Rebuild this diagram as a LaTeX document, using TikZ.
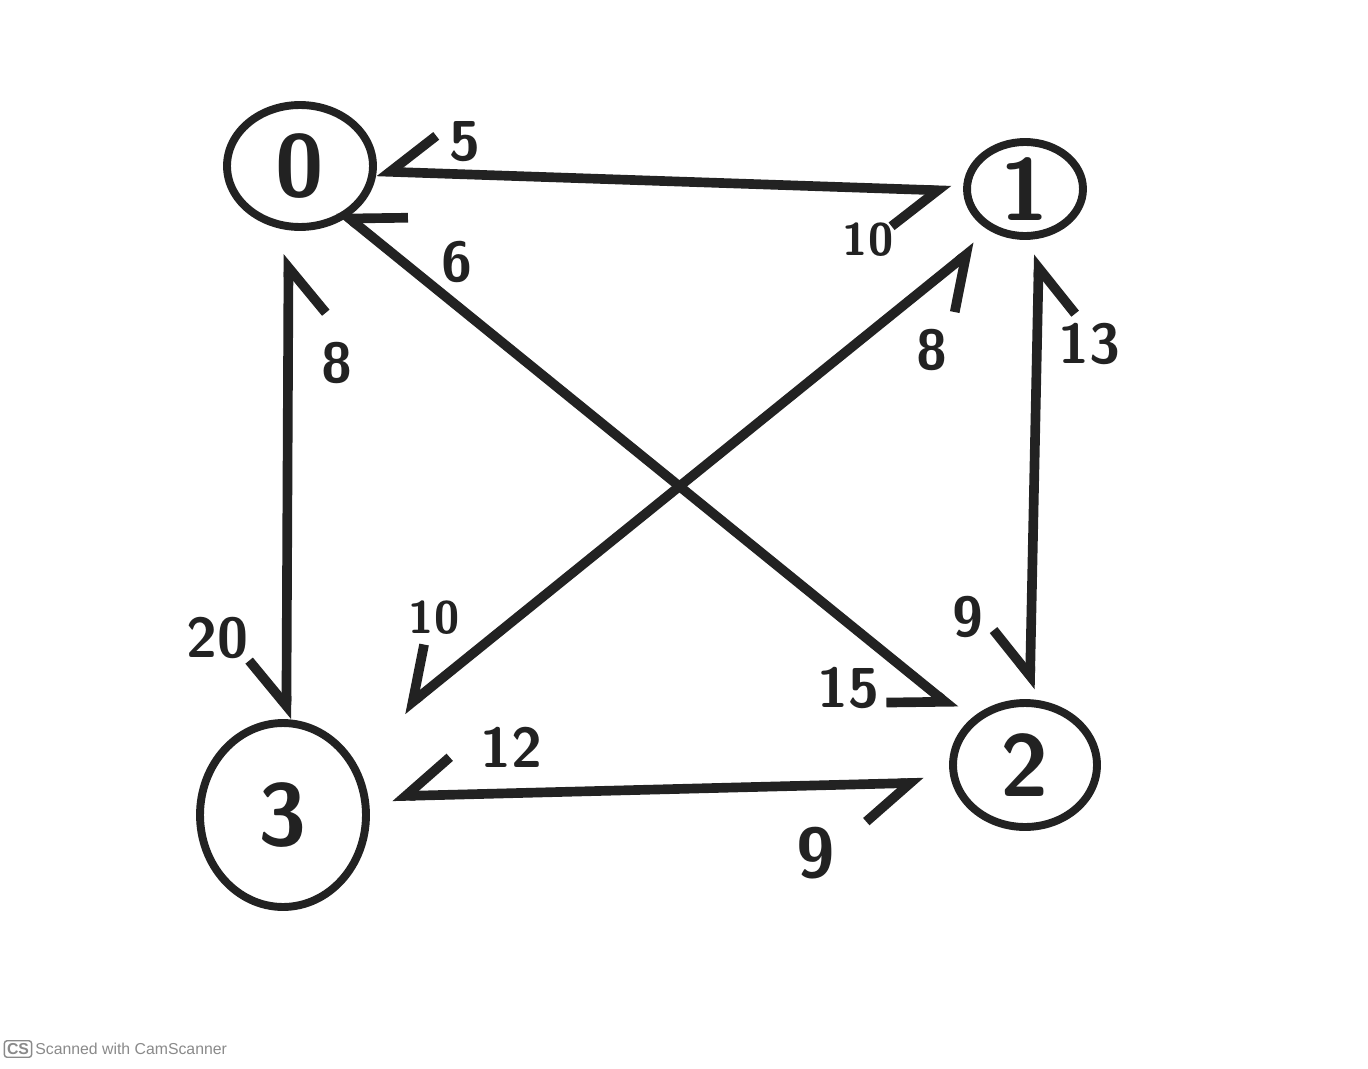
\documentclass[tikz,border=0pt]{standalone}
\usepackage{fontspec}
\newfontfamily\wmfont{Liberation Sans}
\usetikzlibrary{arrows.meta,shapes.geometric}
\definecolor{inkc}{HTML}{222222}
\definecolor{wmc}{HTML}{8A8A8A}
\tikzset{
  hb/.tip={Straight Barb[harpoon,swap,length=0.9cm,width=1.5cm]},
  vert/.style={ellipse, draw=inkc, line width=4.5pt, inner sep=0pt, text=inkc,
    font=\sffamily\bfseries\fontsize{50}{50}\selectfont},
  edge/.style={draw=inkc, line width=5.5pt, line cap=round, line join=round, hb-hb},
  wt/.style={inner sep=0pt, text=inkc, font=\sffamily\bfseries\fontsize{32}{32}\selectfont},
  wm/.style={inner sep=0pt, text=wmc, font=\wmfont\fontsize{9}{9}\selectfont}
}
\begin{document}
\begin{tikzpicture}[x=0.02cm,y=-0.02cm]
\useasboundingbox[fill=white] (0,0) rectangle (1368,1068);
% vertices
\node[vert, minimum width=2.92cm, minimum height=2.44cm] (n0) at (300,166) {0};
\node[vert, minimum width=2.32cm, minimum height=1.88cm] (n1) at (1025,189) {1};
\node[vert, minimum width=2.88cm, minimum height=2.48cm] (n2) at (1025,765) {2};
\node[vert, minimum width=3.32cm, minimum height=3.68cm] (n3) at (283,815) {3};
% edges
\draw[edge, shorten <=0cm, shorten >=0.24cm] (n0.-4) -- (n1.182);
\draw[edge, shorten <=-0.22cm, shorten >=0.34cm] (n0.-47) -- (n2.142);
\draw[edge, shorten <=0.43cm, shorten >=1.36cm] (n1.234) -- (n3.43);
\draw[edge, shorten <=0.48cm, shorten >=0cm] (n0.260) -- (n3.88);
\draw[edge, shorten <=0.32cm, shorten >=0.2cm] (n1.-74) -- (n2.86);
\draw[edge, shorten <=0.48cm, shorten >=0.56cm] (n3.12) -- (n2.193);
% weights
\node[wt] (w5) at (465,142) {5};
\node[wt, font=\sffamily\bfseries\fontsize{26}{26}\selectfont] (w10a) at (868,240) {10};
\node[wt] (w6) at (457,262) {6};
\node[wt] (w8a) at (337,363) {8};
\node[wt] (w8b) at (932,350) {8};
\node[wt] (w13) at (1089,344) {13};
\node[wt] (w20) at (217,638) {20};
\node[wt, font=\sffamily\bfseries\fontsize{26}{26}\selectfont] (w10b) at (434,618) {10};
\node[wt] (w12) at (511,747) {12};
\node[wt] (w15) at (848,688) {15};
\node[wt] (w9a) at (968,617) {9};
\node[wt, font=\sffamily\bfseries\fontsize{40}{40}\selectfont] (w9b) at (816,853) {9};
% watermark
\node[wm, draw=wmc, line width=0.8pt, rounded corners=1.5pt, inner sep=1.5pt,
  font=\wmfont\bfseries\fontsize{9}{9}\selectfont] (cs) at (18,1049) {CS};
\node[wm, anchor=west] (scan) at (35,1049) {Scanned with CamScanner};
\end{tikzpicture}
\end{document}
